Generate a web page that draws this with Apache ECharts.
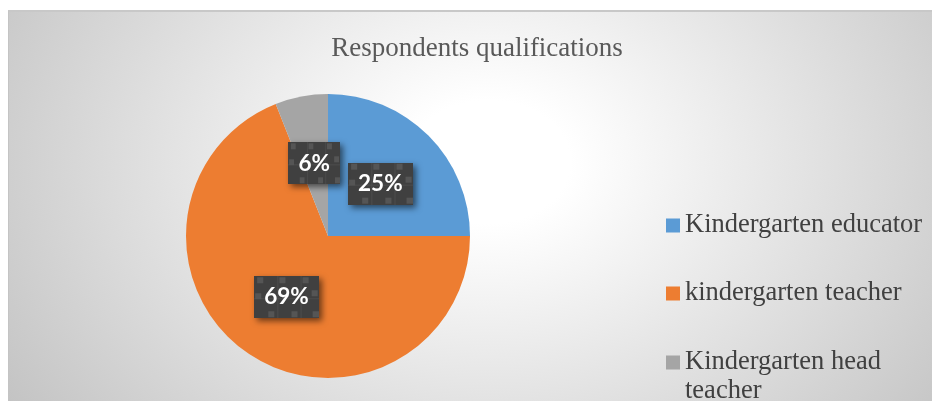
<!DOCTYPE html>
<html>
<head>
<meta charset="utf-8">
<script src="https://cdn.jsdelivr.net/npm/echarts@6/dist/echarts.min.js"></script>
<style>
  html, body { margin: 0; padding: 0; background: #fff; overflow: hidden; }
  #frame {
    position: absolute; left: 8px; top: 10px; width: 940px; height: 400px;
    border-left: 1px solid #c4c4c4; border-top: 2px solid #c8c8c8;
    background: radial-gradient(ellipse 580px 440px at 480px 150px, #ffffff 14%, #c3c3c3 100%);
  }
  #chart { position: absolute; left: 0; top: 0; width: 932px; height: 401px; }
</style>
</head>
<body>
<div id="frame"></div>
<div id="chart"></div>
<script>
// 数据
const categories = ['Kindergarten educator', 'kindergarten teacher', 'Kindergarten head teacher']
const shares = [25, 69, 6]
const colors = ['#5B9BD5', '#ED7D31', '#A5A5A5']
const chartTitle = 'Respondents qualifications'

// 标签背景纹理
function makePattern() {
  const c = document.createElement('canvas')
  c.width = 64
  c.height = 42
  const ctx = c.getContext('2d')
  ctx.fillStyle = '#404040'
  ctx.fillRect(0, 0, 64, 42)
  ctx.strokeStyle = 'rgba(80,80,80,0.8)'
  ctx.lineWidth = 1
  ;[23.5, 46.5].forEach(x => {
    ctx.beginPath(); ctx.moveTo(x, 0); ctx.lineTo(x, 42); ctx.stroke()
  })
  ctx.beginPath(); ctx.moveTo(0, 22.5); ctx.lineTo(64, 22.5); ctx.stroke()
  ctx.fillStyle = '#555555'
  const squares = [[3, 1], [25, 1], [48, 1], [1, 17], [57, 14], [14, 35], [37, 35], [58, 35]]
  squares.forEach(([x, y]) => ctx.fillRect(x, y, 6, 6))
  return c
}
const pattern = makePattern()

// 图例位置（中心 224 / 292 / 360）
const legendTops = [211, 279, 319]

const myChart = echarts.init(document.getElementById('chart'), null, { renderer: 'canvas' })

const legendText = {
  fontFamily: 'Liberation Serif',
  fontSize: 26.5,
  color: '#404040',
  lineHeight: 29,
}

const legends = categories.map((name, i) => ({
  data: [name],
  orient: 'vertical',
  left: 666,
  top: legendTops[i],
  padding: 0,
  icon: 'rect',
  itemWidth: 14,
  itemHeight: 14,
  itemGap: 5,
  selectedMode: false,
  // 第三项换行，前面空一行让图标对齐第一行
  formatter: i === 2 ? n => '\n' + n.replace(' head ', ' head\n') : '{name}',
  textStyle: legendText,
}))

const option = {
  animation: false,
  backgroundColor: 'transparent',
  color: colors,
  title: {
    text: chartTitle,
    left: 472,
    top: 30,
    textAlign: 'center',
    textStyle: {
      fontFamily: 'Liberation Serif',
      fontSize: 27,
      fontWeight: 'normal',
      color: '#595959',
    },
  },
  legend: legends,
  series: [
    {
      type: 'pie',
      center: [328, 236],
      radius: 142,
      startAngle: 90,
      clockwise: true,
      data: categories.map((name, i) => ({ name, value: shares[i] })),
      itemStyle: { borderWidth: 0 },
      label: {
        show: true,
        position: 'inside',
        formatter: '{c}%',
        fontFamily: 'Lato',
        fontWeight: 'bold',
        fontSize: 22.5,
        color: '#ffffff',
        backgroundColor: { image: pattern },
        padding: [10, 10, 9, 10],
        shadowColor: 'rgba(0,0,0,0.55)',
        shadowBlur: 6,
        shadowOffsetX: 3,
        shadowOffsetY: 3,
      },
      labelLine: { show: false },
      emphasis: { disabled: true },
    },
  ],
}

option && myChart.setOption(option)
</script>
</body>
</html>
